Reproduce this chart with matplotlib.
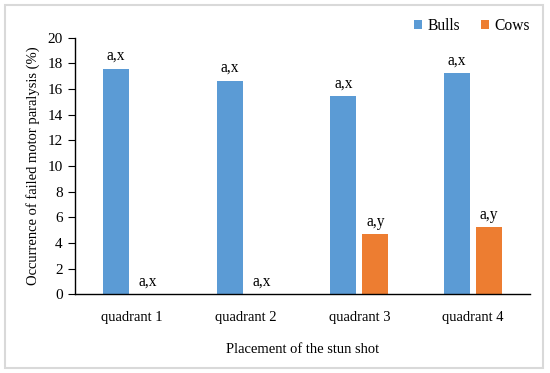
import matplotlib
matplotlib.use("Agg")
import matplotlib.pyplot as plt
import numpy as np
from matplotlib.patches import Rectangle

categories = ["quadrant 1", "quadrant 2", "quadrant 3", "quadrant 4"]
bulls = [17.56, 16.65, 15.45, 17.22]
cows = [0.0, 0.0, 4.67, 5.21]
bull_labels = ["a,x", "a,x", "a,x", "a,x"]
cow_labels = ["a,x", "a,x", "a,y", "a,y"]

plt.rcParams['font.family'] = ['Liberation Serif', 'DejaVu Serif']
W, H = 550, 373
fig = plt.figure(figsize=(W / 100, H / 100), dpi=100)
fig.patches.append(Rectangle((5 / W, 1 - 368 / H), 538 / W, 363 / H, transform=fig.transFigure,
                             fill=False, edgecolor='#d9d9d9', linewidth=1.5))
ax = fig.add_axes([75 / W, 1 - 294.3 / H, (530 - 75) / W, (294.3 - 37.6) / H])

x = np.arange(len(categories))
w = 0.229
off = 0.14
c_b = '#5b9bd5'
c_c = '#ed7d31'
ax.bar(x - off, bulls, w, color=c_b, label='Bulls')
ax.bar(x + off, cows, w, color=c_c, label='Cows')
fs = 10.5
lfs = 11.2
for i in range(len(categories)):
    ax.text(x[i] - off, bulls[i] + 1.0, bull_labels[i], ha='center', va='center', fontsize=lfs)
    ax.text(x[i] + off, cows[i] + 1.0, cow_labels[i], ha='center', va='center', fontsize=lfs)

ax.set_xlim(-0.5, 3.5)
ax.set_ylim(0, 20)
ax.set_yticks(range(0, 21, 2))
ax.set_xticks(x)
ax.set_xticklabels(categories, fontsize=fs)
ax.tick_params(axis='y', labelsize=11, length=5, direction='out', pad=4)
ax.tick_params(axis='x', length=0, pad=12)
for s in ['top', 'right']:
    ax.spines[s].set_visible(False)
ax.spines['left'].set_linewidth(1.0)
ax.spines['bottom'].set_linewidth(1.0)
ax.set_ylabel("Occurrence of failed motor paralysis (%)", fontsize=fs, labelpad=5)
ax.set_xlabel("Placement of the stun shot", fontsize=fs, labelpad=14)
ax.legend(loc='center right', bbox_to_anchor=(1.0, 1 + (37.6 - 26) / (294.3 - 37.6)), ncol=2,
          frameon=False, fontsize=lfs, handlelength=0.55, handleheight=0.55,
          handletextpad=0.35, columnspacing=1.3, borderaxespad=0, borderpad=0)

fig.savefig("out.png", dpi=100)
